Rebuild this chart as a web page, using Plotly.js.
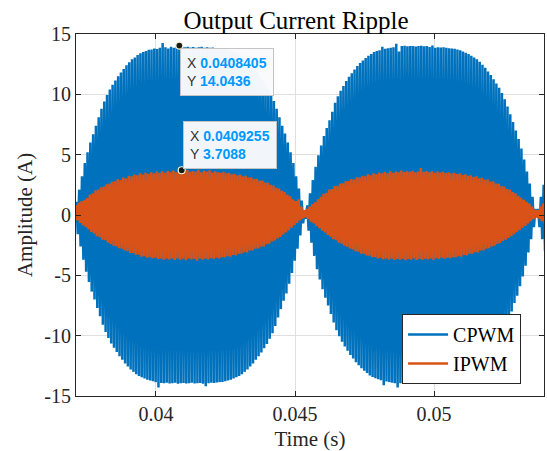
<!DOCTYPE html>
<html>
<head>
<meta charset="utf-8">
<script src="https://cdn.plot.ly/plotly-3.0.1.min.js"></script>
<style>
  html, body { margin: 0; padding: 0; background: #ffffff; }
  #chart { width: 547px; height: 451px; }
</style>
</head>
<body>
<div id="chart"></div>
<script>
// ---------------- data ----------------
// Switching ripple sampled once per switching period (10 kHz):
// a positive peak, then a negative trough half a period later.
const samplePeriod = 0.0001;          // s
const cpwmStart = 0.0371405;          // s, time of first CPWM peak
const ipwmStart = 0.0371255;          // s, time of first IPWM peak

const cpwmPeaks = [
  1.1, 2.1, 3.2, 4.3, 5.2, 6.0, 6.7, 7.4, 8.1, 8.8,
  9.4, 9.95, 10.4, 10.8, 11.15, 11.5, 11.8, 12.1, 12.4, 12.65,
  12.9, 13.05, 13.25, 13.4, 13.5, 13.6, 13.7, 13.72, 13.8, 13.75,
  13.85, 14.25, 13.9, 13.8, 13.95, 13.85, 13.9, 14.0436, 13.95, 13.9,
  13.95, 13.88, 13.92, 13.85, 13.9, 13.95, 13.87, 13.9, 13.85, 13.88,
  13.82, 13.8, 13.78, 13.76, 13.74, 13.68, 13.6, 13.5, 13.4, 13.25,
  13.05, 12.9, 12.65, 12.4, 12.15, 11.85, 11.5, 11.15, 10.8, 10.4,
  9.95, 9.45, 8.8, 8.1, 7.4, 6.75, 6.0, 5.2, 4.3, 3.2,
  2.2, 1.2, 0.2, 0.8, 1.8, 2.9, 4.0, 4.95, 5.75, 6.55,
  7.2, 7.85, 8.55, 9.3, 9.85, 10.3, 10.7, 11.1, 11.45, 11.75,
  12.05, 12.35, 12.6, 12.8, 13.0, 13.2, 13.35, 13.5, 13.6, 13.65,
  13.95, 13.78, 13.82, 13.85, 13.9, 14.2, 13.55, 14.0, 14.02, 13.98,
  14.0, 14.0, 13.97, 14.0, 14.02, 13.98, 14.0, 13.92, 14.05, 13.85,
  13.9, 13.88, 13.9, 13.85, 13.82, 13.8, 13.78, 13.72, 13.65, 13.55,
  13.45, 13.35, 13.2, 13.05, 12.9, 12.7, 12.45, 12.2, 11.9, 11.6,
  11.25, 10.9, 10.55, 10.1, 9.6, 9.0, 8.35, 7.7, 7.0, 6.3,
  5.5, 4.6, 3.6, 2.6, 1.5, 0.5, 0.5, 1.5, 2.5
];
const cpwmTroughs = [
  -1.6, -2.6, -3.7, -4.7, -5.55, -6.35, -7.0, -7.7, -8.4, -9.1,
  -9.7, -10.2, -10.65, -11.0, -11.35, -11.7, -12.0, -12.3, -12.55, -12.8,
  -13.0, -13.2, -13.35, -13.45, -13.55, -13.65, -13.72, -13.78, -13.85, -14.3,
  -13.92, -13.95, -13.9, -13.97, -13.95, -13.9, -13.98, -13.95, -13.92, -13.96,
  -13.95, -13.9, -13.97, -13.95, -13.93, -13.98, -14.2, -13.95, -13.9, -13.92,
  -13.88, -13.85, -13.83, -13.78, -13.72, -13.65, -13.55, -13.45, -13.35, -13.2,
  -13.0, -12.8, -12.55, -12.3, -12.0, -11.7, -11.4, -11.05, -10.7, -10.25,
  -9.8, -9.2, -8.5, -7.8, -7.1, -6.5, -5.7, -4.8, -3.8, -2.8,
  -1.7, -0.7, -0.3, -1.3, -2.3, -3.4, -4.5, -5.35, -6.15, -6.85,
  -7.5, -8.2, -8.9, -9.55, -10.05, -10.5, -10.9, -11.25, -11.6, -11.9,
  -12.2, -12.45, -12.7, -12.9, -13.1, -13.3, -13.42, -13.52, -13.62, -13.7,
  -14.1, -13.8, -13.85, -13.9, -13.95, -14.3, -13.95, -13.92, -13.97, -13.95,
  -13.98, -13.93, -13.96, -13.95, -13.99, -13.94, -13.96, -13.92, -13.97, -13.93,
  -13.95, -13.9, -13.92, -13.88, -13.85, -13.82, -13.8, -13.74, -13.68, -13.6,
  -13.5, -13.4, -13.25, -13.05, -12.85, -12.65, -12.4, -12.1, -11.8, -11.5,
  -11.1, -10.8, -10.4, -9.9, -9.4, -8.7, -8.0, -7.3, -6.7, -5.9,
  -5.1, -4.2, -3.1, -2.0, -1.0, -0.2, -1.0, -2.0, -3.0
];
const ipwmPeaks = [
  0.8, 1.0, 1.15, 1.25, 1.4, 1.7, 1.8, 2.05, 2.1, 2.3,
  2.35, 2.55, 2.6, 2.75, 2.8, 2.95, 2.9, 3.1, 3.05, 3.25,
  3.2, 3.35, 3.3, 3.45, 3.35, 3.5, 3.4, 3.55, 3.45, 3.6,
  3.5, 3.62, 3.5, 3.65, 3.55, 3.68, 3.55, 3.6, 3.7088, 3.55,
  3.72, 3.58, 3.65, 3.6, 3.75, 3.55, 3.66, 3.6, 3.7, 3.52,
  3.62, 3.55, 3.5, 3.58, 3.45, 3.5, 3.38, 3.42, 3.3, 3.35,
  3.22, 3.25, 3.1, 3.12, 2.98, 3.0, 2.85, 2.85, 2.7, 2.68,
  2.5, 2.45, 2.25, 2.2, 2.0, 1.9, 1.7, 1.55, 1.3, 1.15,
  1.3, 0.7, 0.4, 0.5, 0.7, 0.9, 1.05, 1.3, 1.5, 1.75,
  1.85, 2.1, 2.15, 2.4, 2.42, 2.6, 2.62, 2.8, 2.82, 2.98,
  2.95, 3.12, 3.1, 3.25, 3.22, 3.38, 3.3, 3.45, 3.38, 3.52,
  3.45, 3.58, 3.48, 3.62, 3.5, 3.6, 3.55, 3.68, 3.56, 3.62,
  3.58, 3.66, 3.55, 3.6, 3.9, 3.58, 3.65, 3.55, 3.62, 3.5,
  3.6, 3.52, 3.58, 3.48, 3.55, 3.45, 3.5, 3.4, 3.45, 3.32,
  3.38, 3.25, 3.3, 3.15, 3.2, 3.05, 3.08, 2.92, 2.95, 2.78,
  2.78, 2.6, 2.58, 2.4, 2.35, 2.15, 2.1, 1.9, 1.8, 1.6,
  1.45, 1.25, 1.1, 0.95, 0.7, 0.45, 0.4, 0.7, 0.95
];
const ipwmTroughs = [
  -0.45, -0.65, -0.85, -1.0, -1.2, -1.4, -1.55, -1.75, -1.85, -2.05,
  -2.1, -2.3, -2.4, -2.55, -2.6, -2.75, -2.8, -2.95, -3.0, -3.15,
  -3.15, -3.3, -3.3, -3.45, -3.42, -3.55, -3.5, -3.6, -3.55, -3.65,
  -3.6, -3.7, -3.62, -3.68, -3.6, -3.72, -3.6, -3.7, -3.62, -3.75,
  -3.6, -3.68, -3.62, -3.8, -3.6, -3.7, -3.62, -3.68, -3.58, -3.65,
  -3.55, -3.6, -3.5, -3.52, -3.42, -3.45, -3.32, -3.35, -3.2, -3.22,
  -3.08, -3.1, -2.95, -2.95, -2.8, -2.78, -2.62, -2.6, -2.42, -2.38,
  -2.2, -2.12, -1.95, -1.82, -1.62, -1.45, -1.25, -1.05, -0.85, -0.65,
  -0.45, -0.3, -0.2, -0.35, -0.55, -0.7, -0.9, -1.1, -1.3, -1.45,
  -1.65, -1.8, -2.0, -2.1, -2.3, -2.38, -2.55, -2.62, -2.78, -2.85,
  -3.0, -3.05, -3.2, -3.22, -3.35, -3.38, -3.5, -3.48, -3.6, -3.55,
  -3.68, -3.6, -3.7, -3.62, -3.72, -3.65, -3.7, -3.62, -3.75, -3.65,
  -3.7, -3.6, -3.72, -3.65, -3.7, -3.62, -3.68, -3.6, -3.7, -3.58,
  -3.65, -3.55, -3.62, -3.55, -3.58, -3.5, -3.52, -3.42, -3.45, -3.32,
  -3.35, -3.2, -3.22, -3.08, -3.1, -2.95, -2.95, -2.8, -2.75, -2.6,
  -2.55, -2.4, -2.32, -2.15, -2.05, -1.9, -1.75, -1.6, -1.42, -1.25,
  -1.05, -0.9, -0.7, -0.5, -0.35, -0.2, -0.3, -0.5, -0.7
];

// data tips (sample indices into the peak arrays)
const cpwmTipIndex = 37;
const ipwmTipIndex = 38;

const seriesNames = ['CPWM', 'IPWM'];
const xTickVals = [0.04, 0.045, 0.05];
const xTickLabels = ['0.04', '0.045', '0.05'];
const yTickVals = [-15, -10, -5, 0, 5, 10, 15];
const yTickLabels = ['-15', '-10', '-5', '0', '5', '10', '15'];
const xRange = [0.037125, 0.053953];
const yRange = [-15, 15];

// ---------------- build traces ----------------
function ripple(start, peaks, troughs) {
  const n = Math.min(peaks.length, troughs.length);
  const x = [], y = [];
  for (let k = 0; k < n; k++) {
    const t = start + k * samplePeriod;
    x.push(t); y.push(peaks[k]);
    x.push(t + samplePeriod / 2); y.push(troughs[k]);
  }
  return { x, y };
}
const cp = ripple(cpwmStart, cpwmPeaks, cpwmTroughs);
const ip = ripple(ipwmStart, ipwmPeaks, ipwmTroughs);

const blue = '#0072BD';
const orange = '#D95319';

const tipCX = cpwmStart + cpwmTipIndex * samplePeriod;
const tipCY = cpwmPeaks[cpwmTipIndex];
const tipIX = ipwmStart + ipwmTipIndex * samplePeriod;
const tipIY = ipwmPeaks[ipwmTipIndex];
const fmt = v => String(parseFloat(v.toPrecision(6)));

const traces = [
  { x: cp.x, y: cp.y, type: 'scatter', mode: 'lines', name: seriesNames[0],
    line: { color: blue, width: 2.5, simplify: false }, hoverinfo: 'skip' },
  { x: ip.x, y: ip.y, type: 'scatter', mode: 'lines', name: seriesNames[1],
    line: { color: orange, width: 2.5, simplify: false }, hoverinfo: 'skip' },
  { x: [tipCX, tipIX], y: [tipCY, tipIY], type: 'scatter', mode: 'markers',
    showlegend: false, hoverinfo: 'skip',
    marker: { color: '#1a1a1a', size: 7, line: { color: '#f4f4d8', width: 1.2 } } }
];

const valColor = '#0099FF';
function tipText(x, y) {
  return 'X <span style="color:' + valColor + '"><b>' + fmt(x) + '</b></span><br>' +
         'Y <span style="color:' + valColor + '"><b>' + fmt(y) + '</b></span>';
}

const serif = 'Liberation Serif, Times New Roman, serif';
const axisCommon = {
  showline: true, linecolor: '#262626', linewidth: 1, mirror: 'ticks',
  ticks: 'inside', ticklen: 5, tickcolor: '#262626', tickwidth: 1,
  showgrid: true, gridcolor: '#DFDFDF', gridwidth: 1, zeroline: false,
  tickfont: { family: serif, size: 20, color: '#262626' }
};

const layout = {
  width: 547, height: 451,
  margin: { l: 76, r: 3, t: 34, b: 55 },
  paper_bgcolor: '#ffffff', plot_bgcolor: '#ffffff',
  title: { text: 'Output Current Ripple', font: { family: serif, size: 25, color: '#000000' },
           x: 296 / 547, xref: 'container', xanchor: 'center', y: 0.955, yref: 'container', yanchor: 'middle' },
  xaxis: Object.assign({}, axisCommon, {
    range: xRange, tickmode: 'array', tickvals: xTickVals, ticktext: xTickLabels,
    title: { text: 'Time (s)', font: { family: serif, size: 21, color: '#262626' }, standoff: 8 }
  }),
  yaxis: Object.assign({}, axisCommon, {
    range: yRange, tickmode: 'array', tickvals: yTickVals, ticktext: yTickLabels,
    title: { text: 'Amplitude (A)', font: { family: serif, size: 21, color: '#262626' }, standoff: 5 }
  }),
  showlegend: true,
  legend: {
    x: 0.951, y: 0.033, xanchor: 'right', yanchor: 'bottom',
    bgcolor: '#ffffff', bordercolor: '#262626', borderwidth: 1,
    font: { family: serif, size: 20, color: '#000000' },
    tracegroupgap: 0, itemwidth: 40
  },
  annotations: [
    { x: tipCX, y: tipCY, xref: 'x', yref: 'y', xanchor: 'left', yanchor: 'top',
      xshift: 1, yshift: -2, showarrow: false, align: 'left',
      text: tipText(tipCX, tipCY),
      font: { family: 'Liberation Sans, Arial, sans-serif', size: 14, color: '#333333' },
      bgcolor: 'rgba(250,250,252,0.97)', bordercolor: '#c4c4c4', borderwidth: 1, borderpad: 6 },
    { x: tipIX, y: tipIY, xref: 'x', yref: 'y', xanchor: 'left', yanchor: 'bottom',
      xshift: 1, yshift: 1, showarrow: false, align: 'left',
      text: tipText(tipIX, tipIY),
      font: { family: 'Liberation Sans, Arial, sans-serif', size: 14, color: '#333333' },
      bgcolor: 'rgba(250,250,252,0.97)', bordercolor: '#c4c4c4', borderwidth: 1, borderpad: 6 }
  ]
};

Plotly.newPlot('chart', traces, layout, { displayModeBar: false, staticPlot: true });
</script>
</body>
</html>
